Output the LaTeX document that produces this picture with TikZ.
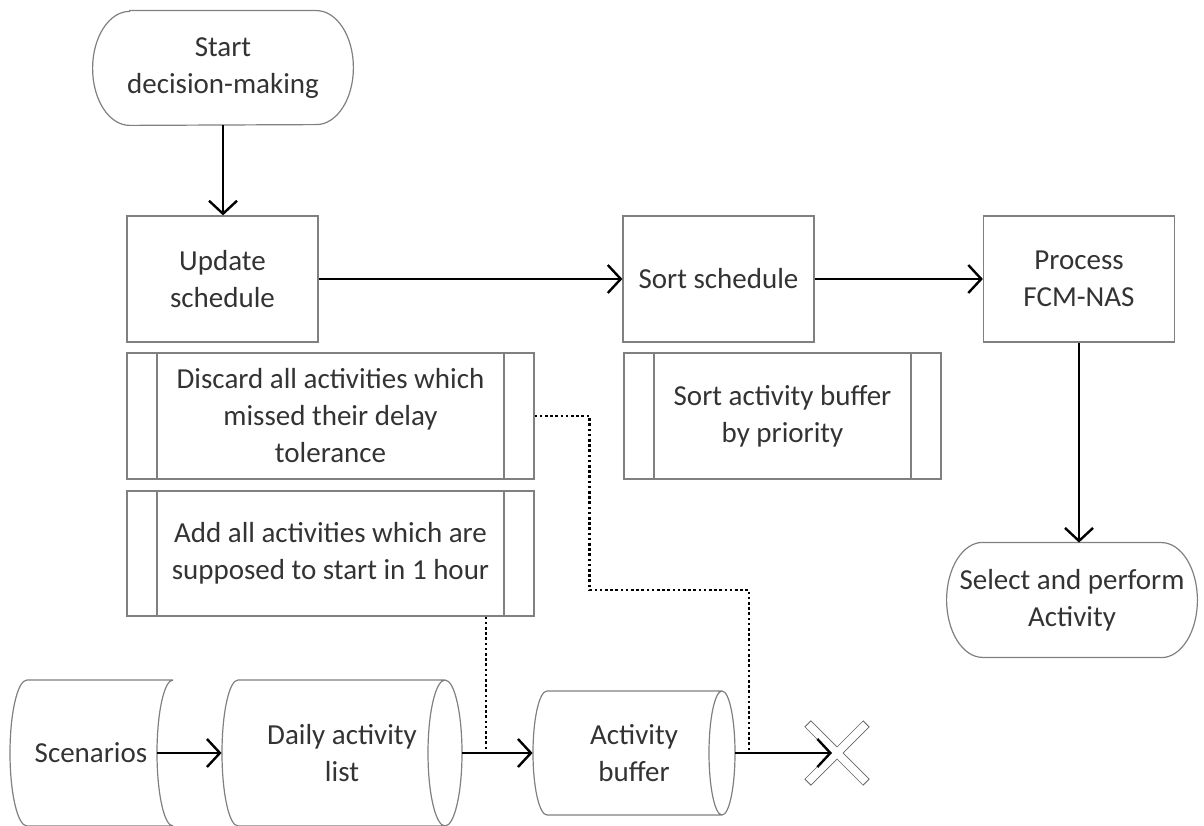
\documentclass[tikz,border=0pt]{standalone}
\usepackage{fontspec}
\setmainfont{Carlito}
\usetikzlibrary{arrows.meta}

\begin{document}
\begin{tikzpicture}[x=0.5pt,y=0.5pt,
    every node/.style={font=\fontsize{14.5}{18.5}\selectfont, text=black!80, align=center},
    outline/.style={draw=black!50, line width=0.6pt},
    box/.style={outline, minimum width=95.5pt, minimum height=63pt},
    term/.style={inner sep=0pt, minimum height=57pt},
    subproc/.style={outline, minimum height=63pt,
      path picture={\draw[black!50, line width=0.6pt]
        ([xshift=15pt]path picture bounding box.north west) -- ([xshift=15pt]path picture bounding box.south west)
        ([xshift=-15pt]path picture bounding box.north east) -- ([xshift=-15pt]path picture bounding box.south east);}},
    store/.style={inner sep=0pt, minimum height=73pt},
    flow/.style={line width=1.2pt, -{Straight Barb[length=6.5pt,width=14pt]}},
    hint/.style={line width=1.3pt, dash pattern=on 1.3pt off 1.3pt}]
  \useasboundingbox (0,0) rectangle (1204,825);
  \clip (0,0) rectangle (1204,825);

  % terminals and process boxes
  \node[term, minimum width=130pt] (start) at (223,757) {Start\\decision-making};
  \draw[outline] ([xshift=18.5pt]start.north west) -- ([xshift=-18.5pt]start.north east)
    arc[start angle=90, end angle=-90, x radius=18.5pt, y radius=28.5pt]
    -- ([xshift=18.5pt]start.south west)
    arc[start angle=270, end angle=90, x radius=18.5pt, y radius=28.5pt] -- cycle;
  \node[box] (update) at (222.5,546) {Update\\schedule};
  \node[box] (sort) at (718.5,546) {Sort schedule};
  \node[box] (process) at (1079,546) {Process\\FCM-NAS};
  \node[term, minimum width=125pt] (select) at (1072,225) {Select and perform\\Activity};
  \draw[outline] ([xshift=18pt]select.north west) -- ([xshift=-18pt]select.north east)
    arc[start angle=90, end angle=-90, x radius=18pt, y radius=28.75pt]
    -- ([xshift=18pt]select.south west)
    arc[start angle=270, end angle=90, x radius=18pt, y radius=28.75pt] -- cycle;

  % sub-processes
  \node[subproc, minimum width=203.5pt] (discard) at (330.5,409) {Discard all activities which\\missed their delay\\tolerance};
  \node[subproc, minimum width=203.5pt, minimum height=62.5pt] (add) at (330.5,271.5) {Add all activities which are\\supposed to start in 1 hour};
  \node[subproc, minimum width=158.5pt] (sortbuf) at (782.5,409) {Sort activity buffer\\by priority};

  % data stores
  \node[store, minimum width=66pt] (scen) at (91,72) {Scenarios};
  \draw[outline, shift={(scen.center)}] (-64,73) -- (82,73) (-64,-73) -- (82,-73)
    (-64,73) arc[start angle=90, end angle=270, x radius=17, y radius=73]
    (82,73) arc[start angle=90, end angle=270, x radius=16, y radius=73];
  \node[store, minimum width=120pt] (daily) at (342,72) {Daily activity\\list};
  \draw[outline, shift={(daily.center)}] (-104,73) -- (103,73) (-104,-73) -- (103,-73)
    (103,0) ellipse[x radius=17, y radius=73]
    (-104,73) arc[start angle=90, end angle=270, x radius=16, y radius=73];
  \node[store, minimum width=101pt, minimum height=62pt] (buffer) at (634,72) {Activity\\buffer};
  \draw[outline, shift={(buffer.center)}] (-87,62) -- (88,62) (-87,-62) -- (88,-62)
    (88,0) ellipse[x radius=13, y radius=62]
    (-87,62) arc[start angle=90, end angle=270, x radius=14, y radius=62];

  % discarded
  \node[inner sep=0pt, minimum size=29pt] (drop) at (837,72) {};
  \foreach \a/\b in {north west/south east, north east/south west} {
    \draw[black!60, line width=4.6pt] (drop.\a) -- (drop.\b);
  }
  \foreach \a/\b in {north west/south east, north east/south west} {
    \draw[white, line width=3.8pt, shorten <=0.5pt, shorten >=0.5pt] (drop.\a) -- (drop.\b);
  }

  % flow
  \draw[flow] (start.south) -- (start.south |- update.north);
  \draw[flow] (update.east) -- (sort.west);
  \draw[flow] (sort.east) -- (process.west);
  \draw[flow] (process.south) -- (process.south |- select.north);
  \draw[flow] (scen.east) -- (daily.west);
  \draw[flow] (daily.east) -- (buffer.west);
  \draw[flow] (buffer.east) -- ([xshift=-2.5pt]drop.center);

  % links to the buffer
  \coordinate (j1) at (486,72);
  \coordinate (j2) at (749,72);
  \coordinate (bend) at (749,235);
  \draw[hint] (add.south -| j1) -- (j1);
  \draw[hint] (discard.east) -- ++(55,0) |- (bend) -- (j2);
\end{tikzpicture}
\end{document}
